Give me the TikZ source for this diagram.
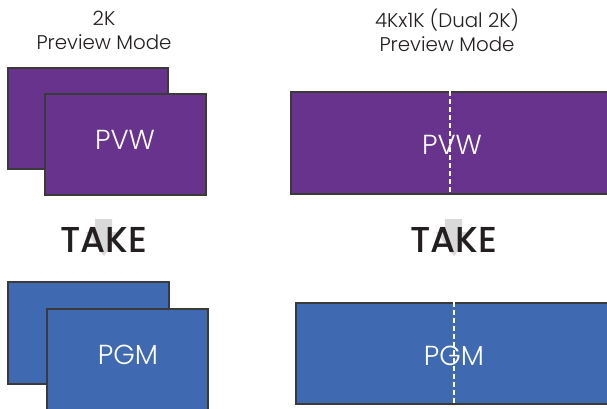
\documentclass[tikz,border=0pt]{standalone}
\usepackage{fontspec}
\setmainfont{Poppins}[UprightFont=*-Light,BoldFont=*-Medium]
\begin{document}
\begin{tikzpicture}[x=1pt,y=-1pt,
  screen/.style={draw=frame,line width=2.3pt,anchor=north west,inner sep=0pt},
  pvwfill/.style={fill=pvwc},
  pgmfill/.style={fill=pgmc},
  scrtext/.style={text=white,font=\fontsize{27.5}{30}\selectfont},
  caption/.style={text=txt,font=\fontsize{19.8}{24}\selectfont,align=center},
  taketext/.style={text=txt,font=\bfseries\fontsize{36}{40}\selectfont},
  arrowbg/.style={fill=arrowc,draw=none},
  split/.style={draw=white,line width=1.1pt,dash pattern=on 5pt off 3pt}]
\definecolor{frame}{HTML}{3A3A3A}
\definecolor{pvwc}{HTML}{67338C}
\definecolor{pgmc}{HTML}{3F6AB1}
\definecolor{txt}{HTML}{231F20}
\definecolor{arrowc}{HTML}{D9D9D9}
\useasboundingbox (0,0) rectangle (607,408);
\fill[white] (0,0) rectangle (607,408);
% captions
\node[caption] (capL) at (104,30) {2K\\Preview Mode};
\node[caption] (capR) at (447,30) {4Kx1K (Dual 2K)\\Preview Mode};
% left PVW
\node[screen,pvwfill,minimum width=160pt,minimum height=101pt] (pvwback) at (7,67) {};
\node[screen,pvwfill,minimum width=161pt,minimum height=101pt] (pvwfront) at (44,93) {};
\node[scrtext] (pvwL) at (125,140) {PVW};
% left PGM
\node[screen,pgmfill,minimum width=161pt,minimum height=102pt] (pgmback) at (7,281) {};
\node[screen,pgmfill,minimum width=161pt,minimum height=115pt] (pgmfront) at (46,308) {};
\node[scrtext] (pgmL) at (128,355) {PGM};
% right PVW
\node[screen,pvwfill,minimum width=340pt,minimum height=102pt] (pvwR) at (290,91) {};
\coordinate (dvt) at (450,91);
\coordinate (dvb) at (450,193);
\node[scrtext] (pvwRt) at (452,145) {PVW};
\draw[split] (dvt) -- (dvb);
% right PGM
\node[screen,pgmfill,minimum width=340pt,minimum height=101pt] (pgmR) at (295,302) {};
\coordinate (dpt) at (454,302);
\coordinate (dpb) at (454,403);
\node[scrtext] (pgmRt) at (454,356) {PGM};
\draw[split] (dpt) -- (dpb);
% TAKE arrows
\fill[arrowbg] (95,219) -- (112,219) -- (112,232) -- (122,232) -- (104,256) -- (86,232) -- (95,232) -- cycle;
\fill[arrowbg] (445,219) -- (462,219) -- (462,232) -- (472,232) -- (454,256) -- (436,232) -- (445,232) -- cycle;
\node[taketext] (takeL) at (104,240) {TAKE};
\node[taketext] (takeR) at (454,240) {TAKE};
\end{tikzpicture}
\end{document}
